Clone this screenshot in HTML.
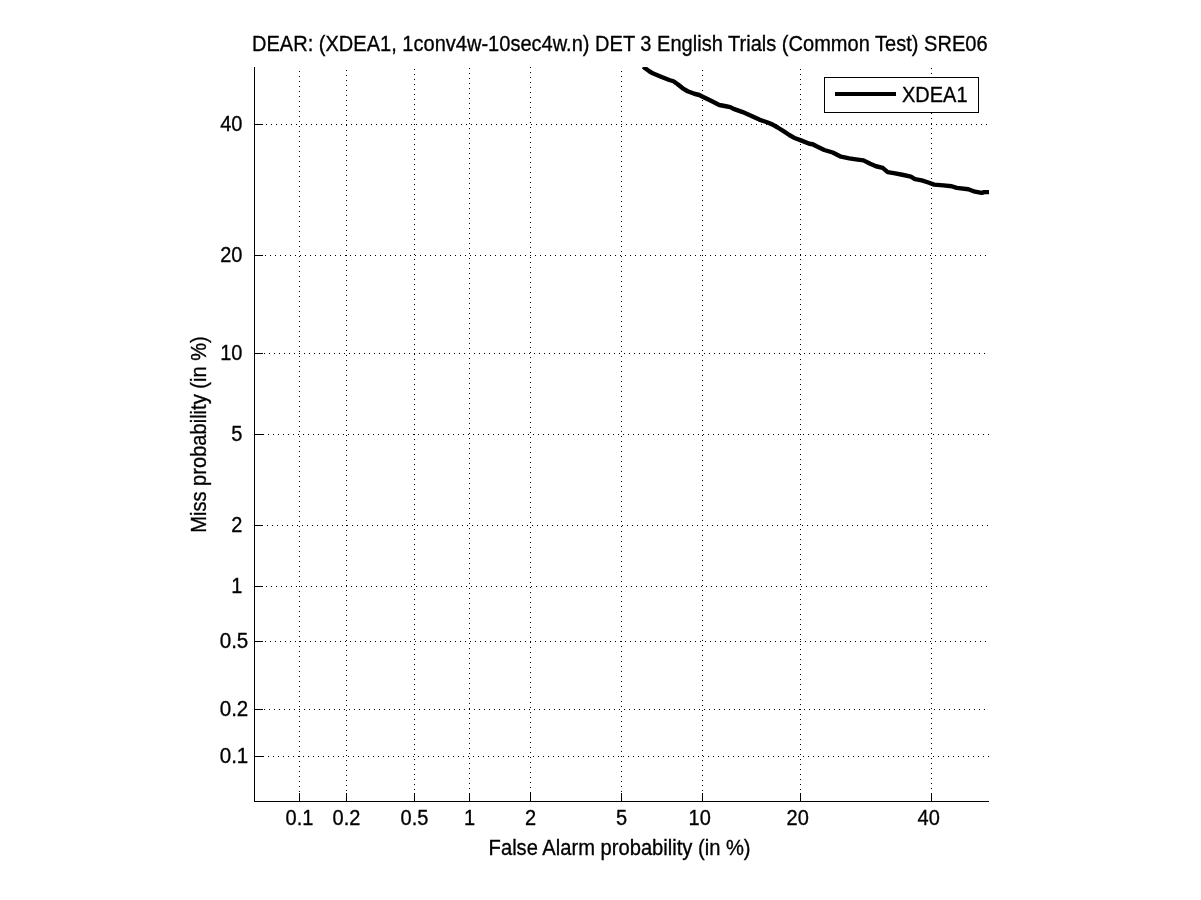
<!DOCTYPE html>
<html><head><meta charset="utf-8"><title>DET plot</title>
<style>
html,body{margin:0;padding:0;background:#fff;}
svg{display:block;}
text{font-family:"Liberation Sans",sans-serif;font-size:20px;fill:#000;stroke:#000;stroke-width:0.3px;}
.g{stroke:#000;stroke-width:1;stroke-dasharray:1 4;shape-rendering:crispEdges;fill:none;}
.a{stroke:#000;stroke-width:1;shape-rendering:crispEdges;fill:none;}
</style></head><body>
<svg width="1201" height="900" viewBox="0 0 1201 900">
<rect width="1201" height="900" fill="#fff"/>
<defs><clipPath id="ax"><rect x="254" y="67" width="735" height="735"/></clipPath></defs>
<line class="g" x1="299.5" y1="71" x2="299.5" y2="802"/>
<line class="g" x1="346.5" y1="70" x2="346.5" y2="802"/>
<line class="g" x1="414.5" y1="69" x2="414.5" y2="802"/>
<line class="g" x1="469.5" y1="68" x2="469.5" y2="802"/>
<line class="g" x1="530.5" y1="67" x2="530.5" y2="802"/>
<line class="g" x1="621.5" y1="71" x2="621.5" y2="802"/>
<line class="g" x1="702.5" y1="70" x2="702.5" y2="802"/>
<line class="g" x1="800.5" y1="69" x2="800.5" y2="802"/>
<line class="g" x1="931.5" y1="68" x2="931.5" y2="802"/>
<line class="g" x1="256" y1="124.5" x2="989" y2="124.5"/>
<line class="g" x1="255" y1="255.5" x2="989" y2="255.5"/>
<line class="g" x1="259" y1="353.5" x2="989" y2="353.5"/>
<line class="g" x1="258" y1="434.5" x2="989" y2="434.5"/>
<line class="g" x1="257" y1="525.5" x2="989" y2="525.5"/>
<line class="g" x1="256" y1="586.5" x2="989" y2="586.5"/>
<line class="g" x1="255" y1="641.5" x2="989" y2="641.5"/>
<line class="g" x1="259" y1="709.5" x2="989" y2="709.5"/>
<line class="g" x1="258" y1="756.5" x2="989" y2="756.5"/>
<line class="a" x1="254.5" y1="67" x2="254.5" y2="802"/>
<line class="a" x1="254" y1="801.5" x2="989" y2="801.5"/>
<line class="a" x1="299.5" y1="793" x2="299.5" y2="802"/>
<line class="a" x1="346.5" y1="793" x2="346.5" y2="802"/>
<line class="a" x1="414.5" y1="793" x2="414.5" y2="802"/>
<line class="a" x1="469.5" y1="793" x2="469.5" y2="802"/>
<line class="a" x1="530.5" y1="793" x2="530.5" y2="802"/>
<line class="a" x1="621.5" y1="793" x2="621.5" y2="802"/>
<line class="a" x1="702.5" y1="793" x2="702.5" y2="802"/>
<line class="a" x1="800.5" y1="793" x2="800.5" y2="802"/>
<line class="a" x1="931.5" y1="793" x2="931.5" y2="802"/>
<line class="a" x1="254" y1="124.5" x2="263" y2="124.5"/>
<line class="a" x1="254" y1="255.5" x2="263" y2="255.5"/>
<line class="a" x1="254" y1="353.5" x2="263" y2="353.5"/>
<line class="a" x1="254" y1="434.5" x2="263" y2="434.5"/>
<line class="a" x1="254" y1="525.5" x2="263" y2="525.5"/>
<line class="a" x1="254" y1="586.5" x2="263" y2="586.5"/>
<line class="a" x1="254" y1="641.5" x2="263" y2="641.5"/>
<line class="a" x1="254" y1="709.5" x2="263" y2="709.5"/>
<line class="a" x1="254" y1="756.5" x2="263" y2="756.5"/>
<text transform="translate(299.5,825) scale(1.0,1.08)" text-anchor="middle">0.1</text>
<text transform="translate(346.5,825) scale(1.0,1.08)" text-anchor="middle">0.2</text>
<text transform="translate(414.5,825) scale(1.0,1.08)" text-anchor="middle">0.5</text>
<text transform="translate(469.5,825) scale(1.0,1.08)" text-anchor="middle">1</text>
<text transform="translate(530.5,825) scale(1.0,1.08)" text-anchor="middle">2</text>
<text transform="translate(621.5,825) scale(1.0,1.08)" text-anchor="middle">5</text>
<text transform="translate(699.72,825) scale(1.0,1.08)" text-anchor="middle">10</text>
<text transform="translate(797.72,825) scale(1.0,1.08)" text-anchor="middle">20</text>
<text transform="translate(928.72,825) scale(1.0,1.08)" text-anchor="middle">40</text>
<text transform="translate(242.44,131) scale(1.0,1.08)" text-anchor="end">40</text>
<text transform="translate(242.44,262) scale(1.0,1.08)" text-anchor="end">20</text>
<text transform="translate(242.44,360) scale(1.0,1.08)" text-anchor="end">10</text>
<text transform="translate(242.44,441) scale(1.0,1.08)" text-anchor="end">5</text>
<text transform="translate(242.44,532) scale(1.0,1.08)" text-anchor="end">2</text>
<text transform="translate(242.44,593) scale(1.0,1.08)" text-anchor="end">1</text>
<text transform="translate(248.3,648) scale(1.03,1.08)" text-anchor="end">0.5</text>
<text transform="translate(248.3,716) scale(1.03,1.08)" text-anchor="end">0.2</text>
<text transform="translate(248.3,763) scale(1.03,1.08)" text-anchor="end">0.1</text>
<text transform="translate(619.75,51) scale(1.003,1.08)" text-anchor="middle">DEAR: (XDEA1, 1conv4w-10sec4w.n) DET 3 English Trials (Common Test) SRE06</text>
<text transform="translate(619.6,855) scale(1.008,1.08)" text-anchor="middle">False Alarm probability (in %)</text>
<text transform="translate(206,434.5) rotate(-90) scale(1.005,1.08)" text-anchor="middle">Miss probability (in %)</text>
<polyline points="643.4,66.6 645.2,68.3 649.3,71.25 652.7,73.3 661,76.7 669.3,80 673.5,81.25 677.7,84.2 682.7,88.3 687.7,91.25 694.3,93.75 699.3,95 702.7,96.7 711,100.8 719.3,105 726,106.25 730.2,107.1 734.3,109.2 742.7,112.1 751,115.8 759.3,119.6 767.7,122.5 772.7,124.6 777.7,127.5 784.3,131.7 789.3,135 795.2,138.3 801,140.4 809.3,143.75 812.7,144.2 816.5,146.3 824.3,150 832.7,152.5 841,156.7 849.3,158.3 857.7,159.6 863.5,160.4 870.2,163.75 876,166.25 882.7,167.9 887.7,172.1 895.2,173.3 903.5,175 910.8,176.6 915,179.2 921.7,180.4 928.3,182.5 934.2,184.6 943.3,185.4 951.7,186.25 956.7,187.9 968.3,189.2 975,191.7 981.7,192.9 984.2,192.1 989.2,192.1" fill="none" stroke="#000" stroke-width="4.4" stroke-linejoin="round" clip-path="url(#ax)"/>
<rect x="824.5" y="77.5" width="154" height="35" fill="#fff" stroke="#000" stroke-width="1" shape-rendering="crispEdges"/>
<line x1="835" y1="94" x2="896" y2="94" stroke="#000" stroke-width="4" shape-rendering="crispEdges"/>
<text transform="translate(902,102) scale(1.0,1.08)">XDEA1</text>
</svg></body></html>
